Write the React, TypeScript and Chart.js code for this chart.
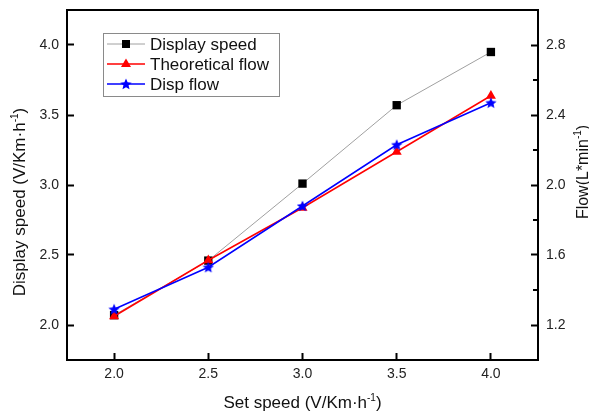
import React, { useEffect, useRef } from 'react';
import { Chart, registerables } from 'chart.js';

Chart.register(...registerables);

const setSpeed = [2.0, 2.5, 3.0, 3.5, 4.0];
const displaySpeed = [2.07, 2.46, 3.01, 3.57, 3.95];
const theoreticalFlow = [1.25, 1.57, 1.87, 2.19, 2.51];
const dispFlow = [1.29, 1.53, 1.88, 2.23, 2.47];
const xTicks = [2.0, 2.5, 3.0, 3.5, 4.0];
const leftTicks = [2.0, 2.5, 3.0, 3.5, 4.0];
const rightTicks = [1.2, 1.6, 2.0, 2.4, 2.8];
const rightMinorTicks = [1.4, 1.8, 2.2, 2.6];
const seriesNames = ['Display speed', 'Theoretical flow', 'Disp flow'];

const FONT = '"Liberation Sans", Arial, sans-serif';

function makeStar(size: number, color: string) {
  const c = document.createElement('canvas');
  c.width = size;
  c.height = size;
  const ctx = c.getContext('2d')!;
  const cx = size / 2, cy = size / 2 + 0.5, R = size / 2, r = R * 0.45;
  ctx.beginPath();
  for (let i = 0; i < 10; i++) {
    const ang = -Math.PI / 2 + (i * Math.PI) / 5;
    const rad = i % 2 === 0 ? R : r;
    ctx.lineTo(cx + rad * Math.cos(ang), cy + rad * Math.sin(ang));
  }
  ctx.closePath();
  ctx.fillStyle = color;
  ctx.fill();
  return c;
}

type Part = { t: string; sup?: boolean };

function partsWidth(ctx: CanvasRenderingContext2D, parts: Part[], size: number, supSize: number) {
  let w = 0;
  for (const p of parts) {
    ctx.font = `${p.sup ? supSize : size}px ${FONT}`;
    w += ctx.measureText(p.t).width;
  }
  return w;
}

function drawParts(ctx: CanvasRenderingContext2D, parts: Part[], x: number, y: number, size: number, supSize: number) {
  let cx = x;
  ctx.textBaseline = 'alphabetic';
  ctx.textAlign = 'left';
  for (const p of parts) {
    ctx.font = `${p.sup ? supSize : size}px ${FONT}`;
    ctx.fillText(p.t, cx, p.sup ? y - size * 0.42 : y);
    cx += ctx.measureText(p.t).width;
  }
}

export default function App() {
  const ref = useRef<HTMLCanvasElement | null>(null);

  useEffect(() => {
    if (!ref.current) return;
    const star = makeStar(12, '#0000ff');
    const fmt = (v: any) => Number(v).toFixed(1);
    const tickFont = { family: FONT, size: 14 };

    const decor = {
      id: 'decor',
      afterDraw(chart: any) {
        const ctx: CanvasRenderingContext2D = chart.ctx;
        const { left, right, top, bottom } = chart.chartArea;
        ctx.save();
        // frame
        ctx.strokeStyle = '#000';
        ctx.lineWidth = 2;
        ctx.strokeRect(left, top, right - left, bottom - top);
        // right minor ticks
        const y1 = chart.scales.y1;
        ctx.beginPath();
        for (const v of rightMinorTicks) {
          const py = Math.round(y1.getPixelForValue(v));
          ctx.moveTo(right, py);
          ctx.lineTo(right - 5, py);
        }
        ctx.stroke();

        // legend
        const lx = 103, ly = 33, lw = 176, lh = 63;
        ctx.fillStyle = '#fff';
        ctx.fillRect(lx, ly, lw, lh);
        ctx.strokeStyle = '#8a8a8a';
        ctx.lineWidth = 1;
        ctx.strokeRect(lx + 0.5, ly + 0.5, lw, lh);
        const rows = [44, 64, 84];
        const lineColors = ['#a0a0a0', '#ff0000', '#0000ff'];
        rows.forEach((ry, i) => {
          ctx.strokeStyle = lineColors[i];
          ctx.lineWidth = i === 0 ? 1 : 1.5;
          ctx.beginPath();
          ctx.moveTo(107, ry);
          ctx.lineTo(145, ry);
          ctx.stroke();
          const mx = 126;
          if (i === 0) {
            ctx.fillStyle = '#000';
            ctx.fillRect(mx - 4, ry - 4, 8, 8);
          } else if (i === 1) {
            ctx.fillStyle = '#ff0000';
            ctx.beginPath();
            ctx.moveTo(mx, ry - 5.5);
            ctx.lineTo(mx + 5, ry + 3);
            ctx.lineTo(mx - 5, ry + 3);
            ctx.closePath();
            ctx.fill();
          } else {
            ctx.drawImage(star, mx - 6, ry - 6, 12, 12);
          }
          ctx.fillStyle = '#111';
          ctx.font = `17px ${FONT}`;
          ctx.textAlign = 'left';
          ctx.textBaseline = 'middle';
          ctx.fillText(seriesNames[i], 150, ry + 1);
        });

        // axis titles
        ctx.fillStyle = '#111';
        const xParts: Part[] = [{ t: 'Set speed (V/Km\u00b7h' }, { t: '-1', sup: true }, { t: ')' }];
        const xw = partsWidth(ctx, xParts, 17, 10);
        drawParts(ctx, xParts, (left + right) / 2 - xw / 2, 408, 17, 10);

        const lParts: Part[] = [{ t: 'Display speed (V/Km\u00b7h' }, { t: '-1', sup: true }, { t: ')' }];
        const lw2 = partsWidth(ctx, lParts, 17, 10);
        ctx.save();
        ctx.translate(25, 202);
        ctx.rotate(-Math.PI / 2);
        drawParts(ctx, lParts, -lw2 / 2, 0, 17, 10);
        ctx.restore();

        const rParts: Part[] = [{ t: 'Flow(L*min' }, { t: '-1', sup: true }, { t: ')' }];
        const rw = partsWidth(ctx, rParts, 16, 10);
        ctx.save();
        ctx.translate(588, 172);
        ctx.rotate(-Math.PI / 2);
        drawParts(ctx, rParts, -rw / 2, 0, 16, 10);
        ctx.restore();

        ctx.restore();
      },
    };

    const axisCommon = (padding: number) => ({
      grid: { drawOnChartArea: false, tickLength: -7, tickWidth: 2, tickColor: '#000' },
      border: { display: true, color: '#000', width: 2 },
      ticks: { padding, font: tickFont, color: '#222', callback: fmt, maxRotation: 0, autoSkip: false },
    });

    const zeroPad = (s: any) => {
      s.paddingTop = 0;
      s.paddingBottom = 0;
      s.paddingLeft = 0;
      s.paddingRight = 0;
    };

    const chart = new Chart(ref.current, {
      type: 'line',
      data: {
        datasets: [
          {
            label: seriesNames[0],
            data: setSpeed.map((x, i) => ({ x, y: displaySpeed[i] })),
            yAxisID: 'y',
            borderColor: '#a0a0a0',
            borderWidth: 1,
            pointStyle: 'rect',
            pointRadius: 5.9,
            pointBackgroundColor: '#000',
            pointBorderColor: '#000',
            pointBorderWidth: 0,
            order: 3,
          },
          {
            label: seriesNames[1],
            data: setSpeed.map((x, i) => ({ x, y: theoreticalFlow[i] })),
            yAxisID: 'y1',
            borderColor: '#ff0000',
            borderWidth: 1.5,
            pointStyle: 'triangle',
            pointRadius: 5.8,
            pointBackgroundColor: '#ff0000',
            pointBorderColor: '#ff0000',
            pointBorderWidth: 0,
            order: 2,
          },
          {
            label: seriesNames[2],
            data: setSpeed.map((x, i) => ({ x, y: dispFlow[i] })),
            yAxisID: 'y1',
            borderColor: '#0000ff',
            borderWidth: 1.5,
            pointStyle: star as any,
            pointRadius: 6,
            order: 1,
          },
        ],
      },
      options: {
        responsive: false,
        animation: false,
        devicePixelRatio: 1,
        layout: { padding: { top: 10, left: 0, right: 0, bottom: 0 } },
        plugins: { legend: { display: false }, tooltip: { enabled: false }, title: { display: false } },
        scales: {
          x: {
            type: 'linear',
            position: 'bottom',
            min: 1.75,
            max: 4.25,
            afterBuildTicks: (s: any) => { s.ticks = xTicks.map((v) => ({ value: v })); },
            afterFit: (s: any) => { s.height = 54; zeroPad(s); },
            ...axisCommon(13),
          } as any,
          y: {
            type: 'linear',
            position: 'left',
            min: 1.75,
            max: 4.25,
            afterBuildTicks: (s: any) => { s.ticks = leftTicks.map((v) => ({ value: v })); },
            afterFit: (s: any) => { s.width = 67; zeroPad(s); },
            ...axisCommon(15),
          } as any,
          y1: {
            type: 'linear',
            position: 'right',
            min: 1.0,
            max: 3.0,
            afterBuildTicks: (s: any) => { s.ticks = rightTicks.map((v) => ({ value: v })); },
            afterFit: (s: any) => { s.width = 51; zeroPad(s); },
            ...axisCommon(15),
          } as any,
        },
      },
      plugins: [decor],
    });
    return () => chart.destroy();
  }, []);

  return (
    <div style={{ position: 'absolute', left: 0, top: 0, width: 589, height: 414, background: '#fff' }}>
      <canvas ref={ref} width={589} height={414} style={{ display: 'block' }} />
    </div>
  );
}
